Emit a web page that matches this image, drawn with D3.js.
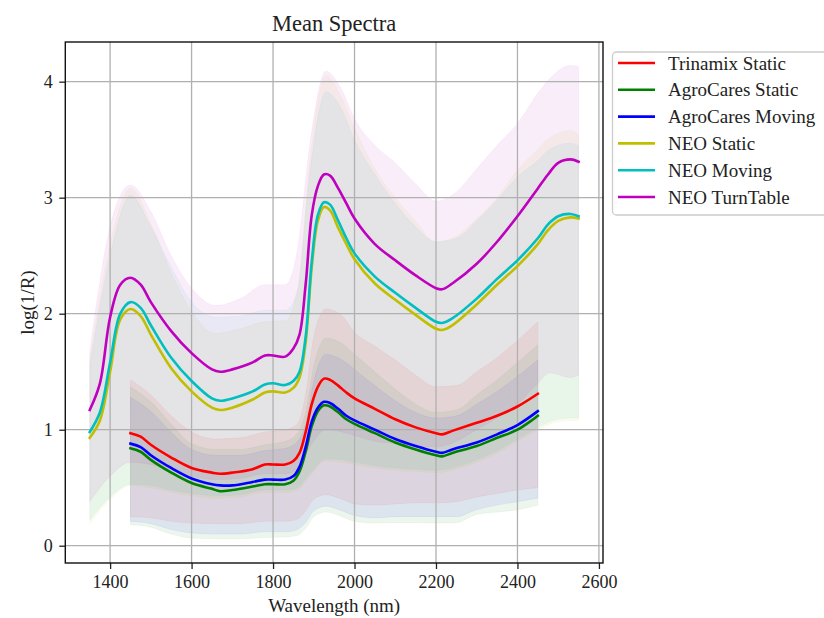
<!DOCTYPE html>
<html>
<head>
<meta charset="utf-8">
<script src="https://cdn.jsdelivr.net/npm/d3@7"></script>
<style>
  body { margin: 0; background: #fff; }
  svg text { font-family: "Liberation Serif", "Times New Roman", serif; fill: #222; }
</style>
</head>
<body>
<svg id="chart" width="824" height="618"></svg>
<script>
// Wavelength grids (nm)
const neoWl = [1350,1375,1400,1425,1450,1475,1500,1550,1600,1650,1670,1700,1750,1780,1800,1830,1850,1865,1880,1895,1910,1925,1940,1960,1980,2000,2050,2100,2150,2200,2215,2240,2300,2350,2400,2450,2475,2500,2530,2550];
const agroWl = [1450,1475,1500,1550,1600,1650,1670,1700,1750,1780,1800,1830,1850,1865,1880,1895,1910,1925,1940,1960,1980,2000,2050,2100,2150,2200,2215,2240,2300,2350,2400,2450];

// Mean spectra
const trinamixStatic = [0.97,0.94,0.87,0.76,0.67,0.63,0.62,0.63,0.66,0.70,0.70,0.70,0.73,0.80,0.98,1.22,1.37,1.44,1.43,1.38,1.32,1.27,1.18,1.09,1.02,0.97,0.96,0.99,1.06,1.12,1.20,1.31];
const agroCaresStatic = [0.84,0.81,0.74,0.63,0.54,0.49,0.47,0.48,0.51,0.53,0.53,0.53,0.56,0.64,0.81,1.03,1.16,1.21,1.20,1.15,1.09,1.05,0.97,0.89,0.83,0.78,0.77,0.80,0.86,0.93,1.00,1.12];
const agroCaresMoving = [0.88,0.85,0.78,0.67,0.58,0.53,0.52,0.52,0.55,0.57,0.57,0.57,0.60,0.68,0.85,1.07,1.19,1.24,1.23,1.18,1.12,1.08,1.00,0.92,0.86,0.81,0.80,0.83,0.89,0.96,1.04,1.16];
const neoStatic = [0.93,1.08,1.50,1.95,2.04,1.98,1.82,1.53,1.33,1.19,1.17,1.19,1.26,1.32,1.33,1.32,1.36,1.45,1.75,2.40,2.80,2.92,2.89,2.74,2.60,2.47,2.26,2.12,1.99,1.87,1.86,1.90,2.08,2.25,2.41,2.60,2.72,2.80,2.83,2.82];
const neoMoving = [0.98,1.15,1.58,2.00,2.10,2.05,1.90,1.62,1.42,1.27,1.25,1.27,1.33,1.39,1.40,1.385,1.42,1.50,1.80,2.45,2.85,2.96,2.94,2.80,2.65,2.52,2.32,2.18,2.05,1.93,1.92,1.96,2.13,2.30,2.46,2.65,2.77,2.84,2.86,2.84];
const neoTurnTable = [1.17,1.40,1.97,2.25,2.31,2.25,2.10,1.85,1.66,1.52,1.50,1.52,1.58,1.64,1.64,1.63,1.70,1.82,2.25,2.85,3.10,3.20,3.19,3.08,2.95,2.82,2.60,2.46,2.33,2.22,2.21,2.26,2.43,2.62,2.84,3.08,3.20,3.30,3.33,3.31];

// Spread bands (lower / upper edge)
const agroBandWl = [1450,1500,1550,1600,1660,1720,1780,1830,1860,1880,1900,1930,1970,2000,2050,2100,2150,2200,2250,2300,2350,2400,2450];
const trinamixStaticHi = [1.43,1.30,1.12,0.98,0.92,0.93,0.98,1.00,1.05,1.30,1.80,2.04,1.98,1.84,1.72,1.60,1.47,1.37,1.38,1.50,1.62,1.77,1.93];
const trinamixStaticLo = [0.25,0.24,0.21,0.195,0.19,0.19,0.21,0.21,0.23,0.30,0.40,0.44,0.40,0.36,0.35,0.36,0.37,0.37,0.38,0.42,0.45,0.48,0.50];
const agroCaresStaticHi = [1.37,1.24,1.05,0.88,0.83,0.83,0.87,0.90,0.97,1.15,1.55,1.79,1.74,1.65,1.50,1.35,1.22,1.15,1.17,1.30,1.43,1.58,1.73];
const agroCaresStaticLo = [0.18,0.16,0.10,0.066,0.06,0.06,0.07,0.075,0.09,0.15,0.25,0.29,0.25,0.21,0.195,0.20,0.20,0.195,0.20,0.27,0.29,0.31,0.35];
const agroCaresMovingHi = [1.28,1.16,0.98,0.83,0.78,0.78,0.82,0.84,0.90,1.05,1.42,1.65,1.60,1.52,1.38,1.25,1.15,1.10,1.12,1.22,1.33,1.46,1.60];
const agroCaresMovingLo = [0.21,0.19,0.14,0.11,0.10,0.10,0.12,0.12,0.14,0.20,0.30,0.34,0.30,0.26,0.24,0.25,0.25,0.25,0.25,0.31,0.35,0.38,0.41];

const neoBandWl = [1350,1400,1450,1500,1550,1600,1660,1720,1780,1830,1860,1890,1930,1970,2000,2050,2100,2150,2200,2250,2300,2350,2400,2450,2480,2530,2550];
const neoStaticHi = [1.60,2.60,3.08,2.78,2.35,2.02,1.83,1.87,1.93,1.94,2.20,3.30,4.05,3.85,3.60,3.25,3.00,2.80,2.62,2.67,2.82,3.00,3.24,3.42,3.52,3.58,3.55];
const neoStaticLo = [0.19,0.40,0.52,0.50,0.46,0.43,0.41,0.42,0.46,0.46,0.48,0.60,0.73,0.72,0.70,0.67,0.65,0.64,0.63,0.66,0.72,0.80,0.90,1.00,1.05,1.08,1.08];
const neoMovingHi = [1.55,2.50,3.02,2.75,2.40,2.10,1.97,1.98,2.03,2.03,2.20,3.20,3.91,3.75,3.50,3.20,2.95,2.75,2.62,2.65,2.80,2.98,3.18,3.32,3.42,3.47,3.45];
const neoMovingLo = [0.22,0.42,0.53,0.52,0.48,0.45,0.43,0.44,0.48,0.48,0.50,0.62,0.75,0.74,0.72,0.69,0.67,0.66,0.65,0.68,0.74,0.82,0.92,1.02,1.07,1.10,1.10];
const neoTurnTableHi = [1.68,2.75,3.11,2.88,2.50,2.22,2.07,2.13,2.25,2.25,2.55,3.45,4.09,3.92,3.68,3.45,3.30,3.12,2.97,3.05,3.25,3.45,3.64,3.90,4.03,4.14,4.13];
const neoTurnTableLo = [0.38,0.60,0.72,0.70,0.65,0.60,0.57,0.58,0.62,0.62,0.66,0.85,1.00,0.98,0.95,0.90,0.88,0.86,0.85,0.90,1.00,1.10,1.22,1.40,1.49,1.45,1.47];

const xTicks = [1400,1600,1800,2000,2200,2400,2600];
const yTicks = [0,1,2,3,4];

const series = [
  { name: "Trinamix Static", color: "#ff0000", wl: agroWl, mean: trinamixStatic, bandWl: agroBandWl, lo: trinamixStaticLo, hi: trinamixStaticHi },
  { name: "AgroCares Static", color: "#008000", wl: agroWl, mean: agroCaresStatic, bandWl: agroBandWl, lo: agroCaresStaticLo, hi: agroCaresStaticHi },
  { name: "AgroCares Moving", color: "#0000ff", wl: agroWl, mean: agroCaresMoving, bandWl: agroBandWl, lo: agroCaresMovingLo, hi: agroCaresMovingHi },
  { name: "NEO Static", color: "#bfbf00", wl: neoWl, mean: neoStatic, bandWl: neoBandWl, lo: neoStaticLo, hi: neoStaticHi },
  { name: "NEO Moving", color: "#00bfbf", wl: neoWl, mean: neoMoving, bandWl: neoBandWl, lo: neoMovingLo, hi: neoMovingHi },
  { name: "NEO TurnTable", color: "#bf00bf", wl: neoWl, mean: neoTurnTable, bandWl: neoBandWl, lo: neoTurnTableLo, hi: neoTurnTableHi },
];

const plot = { left: 65.3, right: 603, top: 42, bottom: 563 };
const svg = d3.select("#chart");

const x = d3.scaleLinear().domain([1290, 2610]).range([plot.left, plot.right]);
const y = d3.scaleLinear().domain([-0.149, 4.342]).range([plot.bottom, plot.top]);

// Bands first (under grid and lines)
const area = d3.area()
  .x((d) => x(d.wl))
  .y0((d) => y(d.lo))
  .y1((d) => y(d.hi))
  .curve(d3.curveMonotoneX);

svg.append("g")
  .selectAll("path")
  .data(series)
  .join("path")
  .attr("d", (s) => area(s.bandWl.map((w, i) => ({ wl: w, lo: s.lo[i], hi: s.hi[i] }))))
  .attr("fill", (s) => s.color)
  .attr("fill-opacity", 0.07)
  .attr("stroke", (s) => s.color)
  .attr("stroke-opacity", 0.05)
  .attr("stroke-width", 1);

// Grid
const grid = svg.append("g").attr("stroke", "#b0b0b0").attr("stroke-width", 1.3);
grid.selectAll(".vg").data(xTicks).join("line")
  .attr("x1", (d) => x(d)).attr("x2", (d) => x(d))
  .attr("y1", plot.top).attr("y2", plot.bottom);
grid.selectAll(".hg").data(yTicks).join("line")
  .attr("x1", plot.left).attr("x2", plot.right)
  .attr("y1", (d) => y(d)).attr("y2", (d) => y(d));

// Mean lines
const line = d3.line()
  .x((d) => x(d[0]))
  .y((d) => y(d[1]))
  .curve(d3.curveCatmullRom.alpha(0.5));

svg.append("g")
  .selectAll("path")
  .data(series)
  .join("path")
  .attr("d", (s) => line(s.wl.map((w, i) => [w, s.mean[i]])))
  .attr("fill", "none")
  .attr("stroke", (s) => s.color)
  .attr("stroke-width", 2.6)
  .attr("stroke-linejoin", "round")
  .attr("stroke-linecap", "square");

// Axes
const xAxis = svg.append("g")
  .attr("transform", `translate(0,${plot.bottom})`)
  .call(d3.axisBottom(x).tickValues(xTicks).tickFormat(d3.format("d")).tickSize(6).tickPadding(6.5));
const yAxis = svg.append("g")
  .attr("transform", `translate(${plot.left},0)`)
  .call(d3.axisLeft(y).tickValues(yTicks).tickFormat(d3.format("d")).tickSize(6).tickPadding(6.5));

[xAxis, yAxis].forEach((g) => {
  g.select(".domain").remove();
  g.selectAll(".tick line").attr("stroke", "#222").attr("stroke-width", 1.3);
  g.selectAll(".tick text").attr("font-size", 18).attr("font-family", "Liberation Serif").attr("fill", "#222");
});

// Frame
svg.append("rect")
  .attr("x", plot.left).attr("y", plot.top)
  .attr("width", plot.right - plot.left).attr("height", plot.bottom - plot.top)
  .attr("fill", "none").attr("stroke", "#111").attr("stroke-width", 1.4);

// Title and labels
svg.append("text")
  .attr("x", (plot.left + plot.right) / 2).attr("y", 31)
  .attr("text-anchor", "middle").attr("font-size", 22.5)
  .text("Mean Spectra");

svg.append("text")
  .attr("x", (plot.left + plot.right) / 2).attr("y", 612)
  .attr("text-anchor", "middle").attr("font-size", 19)
  .text("Wavelength (nm)");

svg.append("text")
  .attr("transform", `translate(34,${(plot.top + plot.bottom) / 2}) rotate(-90)`)
  .attr("text-anchor", "middle").attr("font-size", 19)
  .text("log(1/R)");

// Legend
const legend = svg.append("g").attr("transform", "translate(612.5,52)");
legend.append("rect")
  .attr("width", 230).attr("height", 163).attr("rx", 4)
  .attr("fill", "#fff").attr("fill-opacity", 0.8)
  .attr("stroke", "#cccccc").attr("stroke-width", 1.3);

const item = legend.selectAll(".item")
  .data(series)
  .join("g")
  .attr("transform", (d, i) => `translate(0,${11 + i * 26.8})`);
item.append("line")
  .attr("x1", 5.5).attr("x2", 42.5)
  .attr("stroke", (d) => d.color).attr("stroke-width", 2.6);
item.append("text")
  .attr("x", 55.5).attr("dy", "0.35em")
  .attr("font-size", 19)
  .text((d) => d.name);
</script>
</body>
</html>
